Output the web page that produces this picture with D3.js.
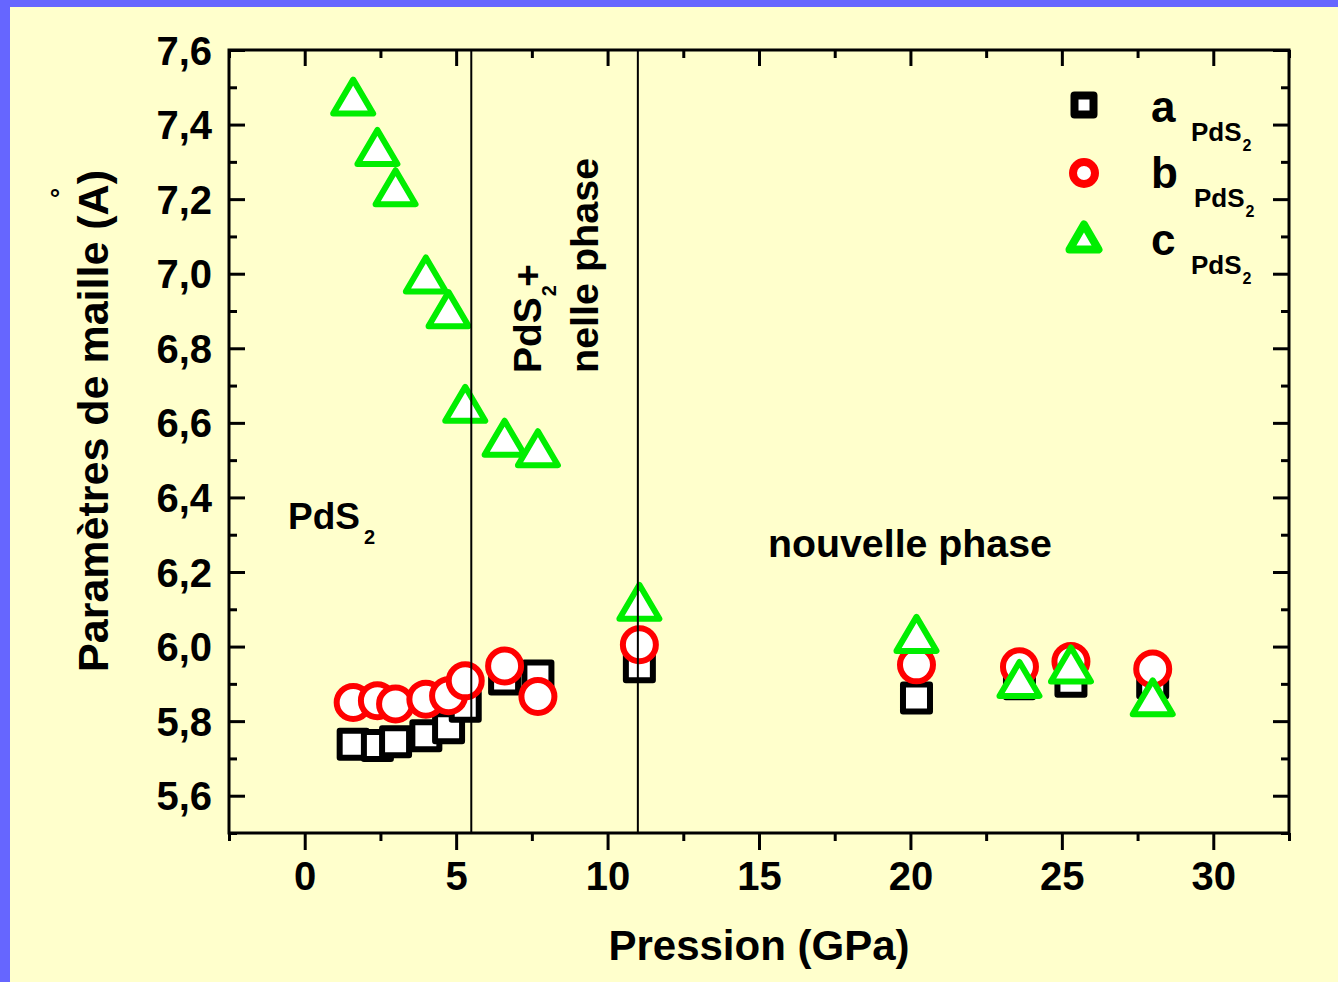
<!DOCTYPE html>
<html>
<head>
<meta charset="utf-8">
<script src="https://cdn.jsdelivr.net/npm/d3@7"></script>
<style>
  html, body { margin: 0; padding: 0; background: #6666ff; }
  svg { display: block; }
  text { font-family: "Liberation Sans", Arial, sans-serif; font-weight: bold; fill: #000; }
</style>
</head>
<body>
<svg id="chart" width="1338" height="982"></svg>
<script>
// ---- data ----
const pressure = [1.6, 2.4, 3.0, 4.0, 4.75, 5.3, 6.6, 7.7, 11.05, 20.2, 23.6, 25.3, 28.0];
const aPdS2 = [5.738, 5.735, 5.745, 5.761, 5.782, 5.840, 5.913, 5.921, 5.946, 5.862, 5.900, 5.907, 5.903];
const bPdS2 = [5.850, 5.855, 5.846, 5.859, 5.868, 5.908, 5.948, 5.866, 6.005, 5.951, 5.946, 5.960, 5.940];
const cPdS2 = [7.475, 7.340, 7.232, 6.998, 6.905, 6.651, 6.560, 6.532, 6.120, 6.034, 5.913, 5.952, 5.864];
const phaseBoundaries = [5.5, 11.0];
const xMajorTicks = [0, 5, 10, 15, 20, 25, 30];
const xMinorTicks = [-2.5, 2.5, 7.5, 12.5, 17.5, 22.5, 27.5, 32.5];
const yMajorTicks = [5.6, 5.8, 6.0, 6.2, 6.4, 6.6, 6.8, 7.0, 7.2, 7.4, 7.6];
const yMinorTicks = [5.5, 5.7, 5.9, 6.1, 6.3, 6.5, 6.7, 6.9, 7.1, 7.3, 7.5];
const yTickLabels = ["5,6", "5,8", "6,0", "6,2", "6,4", "6,6", "6,8", "7,0", "7,2", "7,4", "7,6"];

const svg = d3.select("#chart");
const W = 1338, H = 982;
const L = 229, R = 1289, T = 50, B = 833;

// background
svg.append("rect").attr("x", 0).attr("y", 0).attr("width", W).attr("height", H).attr("fill", "#6666ff");
svg.append("rect").attr("x", 10).attr("y", 7).attr("width", W - 10).attr("height", H - 7).attr("fill", "#ffffcc");

const x = d3.scaleLinear().domain([-2.5, 32.5]).range([L, R]);
const y = d3.scaleLinear().domain([5.5, 7.6]).range([B, T]);

const series = [
  { key: "a", values: aPdS2, shape: "square", color: "#000000" },
  { key: "b", values: bPdS2, shape: "circle", color: "#ff0000" },
  { key: "c", values: cPdS2, shape: "triangle", color: "#00ee00" }
];

function drawMarker(g, shape, color, sz) {
  const sw = sz.sw;
  if (shape === "square") {
    g.append("rect").attr("x", -sz.s / 2).attr("y", -sz.s / 2).attr("width", sz.s).attr("height", sz.s)
      .attr("fill", "#fff").attr("stroke", color).attr("stroke-width", sw).attr("stroke-linejoin", "round");
  } else if (shape === "circle") {
    g.append("circle").attr("r", sz.r).attr("fill", "#fff").attr("stroke", color).attr("stroke-width", sw);
  } else {
    const w = sz.tw, h = sz.th;
    g.append("path").attr("d", `M0,${-h / 2}L${w / 2},${h / 2}L${-w / 2},${h / 2}Z`)
      .attr("fill", "#fff").attr("stroke", color).attr("stroke-width", sw).attr("stroke-linejoin", "round");
  }
}

const plotSize = { s: 27, r: 16.5, tw: 40, th: 34, sw: 6 };
series.forEach(s => {
  const g = svg.append("g").attr("class", "series-" + s.key);
  s.values.forEach((v, i) => {
    const m = g.append("g").attr("transform", `translate(${x(pressure[i])},${y(v)})`);
    drawMarker(m, s.shape, s.color, plotSize);
  });
});

// phase boundary lines
svg.append("g").selectAll("line").data(phaseBoundaries).join("line")
  .attr("x1", d => x(d)).attr("x2", d => x(d)).attr("y1", T).attr("y2", B)
  .attr("stroke", "#000").attr("stroke-width", 2);

// axes
function styleAxis(g) {
  g.select(".domain").remove();
  g.selectAll(".tick line").attr("stroke", "#000").attr("stroke-width", 3);
}
const tickFont = 40;
// bottom
svg.append("g").attr("transform", `translate(0,${B})`)
  .call(d3.axisBottom(x).tickValues(xMajorTicks).tickSize(17).tickPadding(9).tickFormat(d3.format("d")))
  .call(styleAxis)
  .call(g => g.selectAll("text").attr("font-size", tickFont).attr("font-family", "Liberation Sans, Arial, sans-serif").attr("font-weight", "bold").attr("fill", "#000").attr("dy", "0.78em"));
svg.append("g").attr("transform", `translate(0,${B})`)
  .call(d3.axisBottom(x).tickValues(xMinorTicks).tickSize(8).tickFormat(""))
  .call(styleAxis);
// top
svg.append("g").attr("transform", `translate(0,${T})`)
  .call(d3.axisTop(x).tickValues(xMajorTicks).tickSize(-16).tickFormat(""))
  .call(styleAxis);
svg.append("g").attr("transform", `translate(0,${T})`)
  .call(d3.axisTop(x).tickValues(xMinorTicks).tickSize(-8).tickFormat(""))
  .call(styleAxis);
// left
svg.append("g").attr("transform", `translate(${L},0)`)
  .call(d3.axisLeft(y).tickValues(yMajorTicks).tickSize(-16).tickPadding(17)
    .tickFormat((d, i) => yTickLabels[i]))
  .call(styleAxis)
  .call(g => g.selectAll("text").attr("font-size", tickFont).attr("font-family", "Liberation Sans, Arial, sans-serif").attr("font-weight", "bold").attr("fill", "#000").attr("x", -17).attr("dy", "0.35em"));
svg.append("g").attr("transform", `translate(${L},0)`)
  .call(d3.axisLeft(y).tickValues(yMinorTicks).tickSize(-8).tickFormat(""))
  .call(styleAxis);
// right
svg.append("g").attr("transform", `translate(${R},0)`)
  .call(d3.axisRight(y).tickValues(yMajorTicks).tickSize(-16).tickFormat(""))
  .call(styleAxis);
svg.append("g").attr("transform", `translate(${R},0)`)
  .call(d3.axisRight(y).tickValues(yMinorTicks).tickSize(-8).tickFormat(""))
  .call(styleAxis);
// frame
svg.append("rect").attr("x", L).attr("y", T).attr("width", R - L).attr("height", B - T)
  .attr("fill", "none").attr("stroke", "#000").attr("stroke-width", 3);

// axis titles
svg.append("text").attr("x", (L + R) / 2).attr("y", 960).attr("text-anchor", "middle")
  .attr("font-size", 42).text("Pression (GPa)");
svg.append("text").attr("transform", "translate(108,421) rotate(-90)").attr("text-anchor", "middle")
  .attr("font-size", 43).text("Paramètres de maille (A)");
svg.append("text").attr("x", 55).attr("y", 207).attr("text-anchor", "middle").attr("font-size", 26).attr("font-weight", "normal").text("°");

// annotations
const t1 = svg.append("text").attr("x", 288).attr("y", 529).attr("font-size", 37);
t1.append("tspan").text("PdS");
t1.append("tspan").attr("font-size", 20).attr("dy", 15).attr("dx", 4).text("2");

svg.append("text").attr("x", 768).attr("y", 557).attr("font-size", 39.3).text("nouvelle phase");

const t2 = svg.append("text").attr("transform", "translate(541,373) rotate(-90)").attr("font-size", 39);
t2.append("tspan").text("PdS");
t2.append("tspan").attr("font-size", 20).attr("dy", 15).attr("dx", 1).text("2");
t2.append("tspan").attr("dy", -15).attr("dx", -2).text("+");
svg.append("text").attr("transform", "translate(598,373) rotate(-90)").attr("font-size", 39.5).text("nelle phase");

// legend
const legendSize = { s: 19, r: 11, tw: 29, th: 25, sw: 8 };
const legendRows = [
  { s: series[0], cy: 105, base: 122, subX: 1191 },
  { s: series[1], cy: 173, base: 188, subX: 1194 },
  { s: series[2], cy: 237, base: 255, subX: 1191 }
];
legendRows.forEach(r => {
  const m = svg.append("g").attr("transform", `translate(1084,${r.cy})`);
  drawMarker(m, r.s.shape, r.s.color, legendSize);
  svg.append("text").attr("x", 1151).attr("y", r.base).attr("font-size", 44).text(r.s.key);
  const st = svg.append("text").attr("x", r.subX).attr("y", r.base + 19).attr("font-size", 26);
  st.append("tspan").text("PdS");
  st.append("tspan").attr("font-size", 16).attr("dy", 10).attr("dx", 1).text("2");
});
</script>
</body>
</html>
